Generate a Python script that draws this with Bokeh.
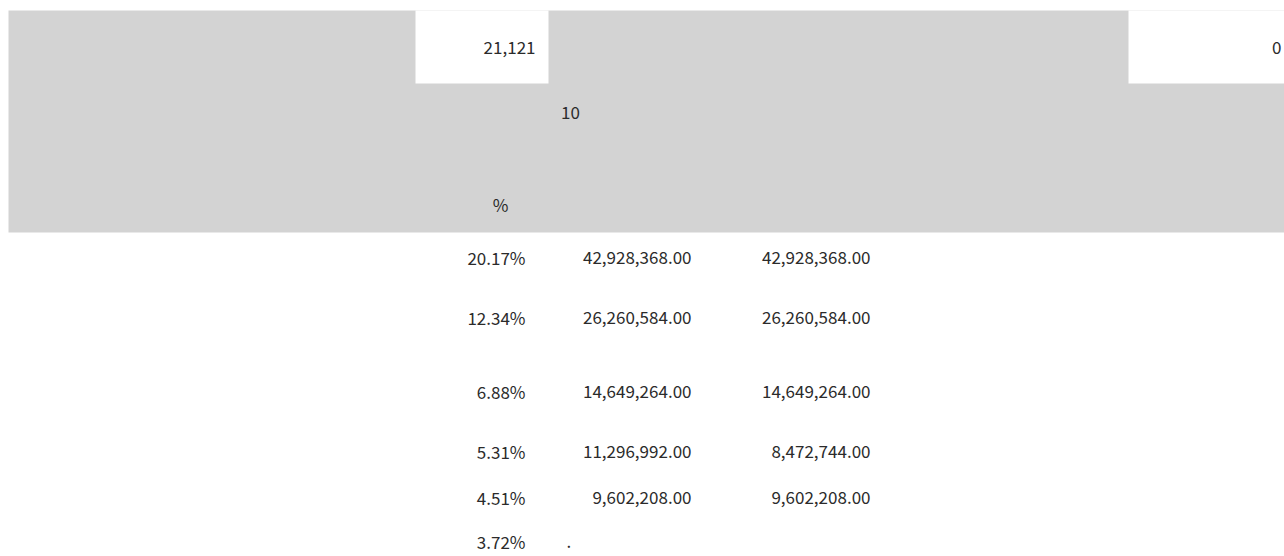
from bokeh.plotting import figure
from bokeh.models import ColumnDataSource, Range1d
from bokeh.core.properties import value
from bokeh.embed import file_html
from bokeh.resources import INLINE

# ---- data ----
header_numbers = ["21,121", "0"]
header_count = ["10"]
header_unit = ["%"]
share_pct = [20.17, 12.34, 6.88, 5.31, 4.51, 3.72]
amount_a = [42928368.00, 26260584.00, 14649264.00, 11296992.00, 9602208.00, None]
amount_b = [42928368.00, 26260584.00, 14649264.00, 8472744.00, 9602208.00, None]
row_note = ["", "", "", "", "", "."]

FONT = value("Noto Sans CJK SC")
COLOR = "#2b2b2b"
FS = "17px"

W, H = 1284, 556
p = figure(width=W, height=H, output_backend="svg", toolbar_location=None,
           x_range=Range1d(0, W), y_range=Range1d(H, 0),
           min_border=0, outline_line_color=None)
p.axis.visible = False
p.grid.visible = False
p.background_fill_color = "white"
p.border_fill_color = "white"

# header background and white cells
p.quad(left=[8], right=[W], top=[10], bottom=[232], fill_color="#d3d3d3", line_color=None)
p.quad(left=[415, 1128], right=[548, W], top=[10, 10], bottom=[83, 83],
       fill_color="white", line_color=None)

# header texts
p.text(x=[535, 1281], y=[47, 47], text=header_numbers, text_align="right",
       text_baseline="middle", text_font=FONT, text_font_size=FS, text_color=COLOR)
p.text(x=[570], y=[112], text=header_count, text_align="center",
       text_baseline="middle", text_font=FONT, text_font_size=FS, text_color=COLOR)
p.text(x=[500], y=[204], text=header_unit, text_align="center",
       text_baseline="middle", text_font=FONT, text_font_size=FS, text_color=COLOR)

# body rows
row_y = [257, 317, 391, 451, 497, 541]

def fmt(v):
    return "" if v is None else f"{v:,.2f}"

src = ColumnDataSource(dict(
    y=row_y,
    pct=[f"{v:.2f}%" for v in share_pct],
    a=[fmt(v) for v in amount_a],
    b=[fmt(v) for v in amount_b],
    note=row_note,
))
common = dict(source=src, y="y", text_baseline="middle", text_font=FONT,
              text_font_size=FS, text_color=COLOR)
p.text(x=525, text="pct", text_align="right", **common)
p.text(x=691, text="a", text_align="right", **common)
p.text(x=870, text="b", text_align="right", **common)
p.text(x=566, text="note", text_align="left", **common)

open("out.html", "w").write(file_html(p, INLINE))
